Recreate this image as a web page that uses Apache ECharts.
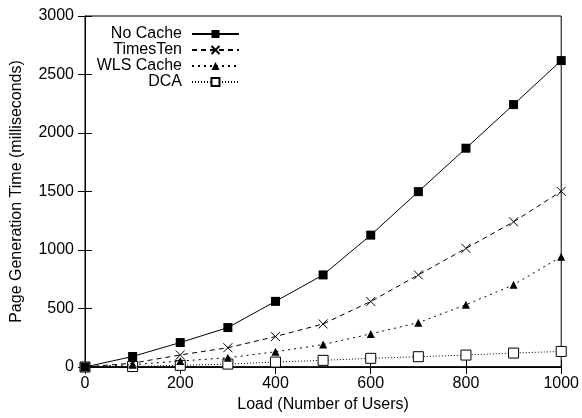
<!DOCTYPE html>
<html>
<head>
<meta charset="utf-8">
<script src="https://cdn.jsdelivr.net/npm/echarts@6/dist/echarts.min.js"></script>
<style>html,body{margin:0;padding:0;background:#fff;}#c{width:582px;height:418px;}</style>
</head>
<body>
<div id="c"></div>
<script>
const loads = [0, 100, 200, 300, 400, 500, 600, 700, 800, 900, 1000];
const noCache = [0, 90, 209, 337, 561, 787, 1127, 1499, 1870, 2243, 2619];
const timesTen = [0, 33, 103, 165, 260, 368, 560, 787, 1014, 1241, 1501];
const wlsCache = [0, 20, 51, 79, 130, 192, 283, 379, 532, 702, 943];
const dca = [0, 4, 14, 25, 42, 57, 74, 88, 102, 119, 133];
const seriesNames = ['No Cache', 'TimesTen', 'WLS Cache', 'DCA'];
const xTicks = [0, 200, 400, 600, 800, 1000];
const yTicks = [0, 500, 1000, 1500, 2000, 2500, 3000];

const font = 'Liberation Sans, Arial, Helvetica, sans-serif';
const pair = arr => loads.map((x, i) => [x, arr[i]]);
const crossPath = 'path://M0,0L10,10M10,0L0,10';
const plain = v => String(v);

const chart = echarts.init(document.getElementById('c'), null, {renderer: 'canvas'});
const tickCommon = {show: true, inside: true, length: 7, lineStyle: {color: '#000', width: 1}};
chart.setOption({
  animation: false,
  backgroundColor: '#fff',
  textStyle: {fontFamily: font},
  grid: {left: 85, right: 18, top: 16, bottom: 49, show: true, borderColor: '#000', borderWidth: 1, backgroundColor: 'transparent'},
  legend: {
    orient: 'vertical', align: 'right', right: 342, top: 26, padding: 0,
    itemWidth: 47, itemHeight: 10, itemGap: 0,
    textStyle: {fontSize: 16, color: '#000', fontFamily: font, padding: [0, 5, 0, 0]},
    data: seriesNames
  },
  xAxis: [{
    type: 'value', min: xTicks[0], max: xTicks[xTicks.length - 1], interval: 200,
    name: 'Load (Number of Users)', nameLocation: 'middle', nameGap: 30,
    nameTextStyle: {fontSize: 16, color: '#000', fontFamily: font},
    axisLine: {show: true, lineStyle: {color: '#000', width: 1.5}},
    axisTick: tickCommon,
    axisLabel: {fontSize: 16, color: '#000', margin: 9, fontFamily: font, formatter: plain},
    splitLine: {show: false}
  }, {
    type: 'value', position: 'top', min: 0, max: 1000, interval: 200,
    axisLine: {show: true, lineStyle: {color: '#000'}}, axisTick: tickCommon,
    axisLabel: {show: false}, splitLine: {show: false}
  }],
  yAxis: [{
    type: 'value', min: yTicks[0], max: yTicks[yTicks.length - 1], interval: 500,
    name: 'Page Generation Time (milliseconds)', nameLocation: 'middle', nameGap: 60,
    nameTextStyle: {fontSize: 16, color: '#000', fontFamily: font},
    axisLine: {show: true, lineStyle: {color: '#000', width: 1}},
    axisTick: tickCommon,
    axisLabel: {fontSize: 16, color: '#000', margin: 11, fontFamily: font, formatter: plain},
    splitLine: {show: false}
  }, {
    type: 'value', position: 'right', min: 0, max: 3000, interval: 500,
    axisLine: {show: true, lineStyle: {color: '#000'}}, axisTick: tickCommon,
    axisLabel: {show: false}, splitLine: {show: false}
  }],
  series: [
    {name: seriesNames[0], type: 'line', data: pair(noCache), symbol: 'rect', symbolSize: 9,
     lineStyle: {color: '#000', width: 1, type: 'solid'},
     itemStyle: {color: '#000', borderColor: '#000', borderWidth: 0}, z: 5},
    {name: seriesNames[1], type: 'line', data: pair(timesTen), symbol: crossPath, symbolSize: 9,
     lineStyle: {color: '#000', width: 1, type: [5, 4]},
     itemStyle: {color: 'none', borderColor: '#000', borderWidth: 1}, z: 4},
    {name: seriesNames[2], type: 'line', data: pair(wlsCache), symbol: 'triangle', symbolSize: 8,
     lineStyle: {color: '#000', width: 1, type: [2, 4]},
     itemStyle: {color: '#000', borderColor: '#000', borderWidth: 0}, z: 3},
    {name: seriesNames[3], type: 'line', data: pair(dca), symbol: 'rect', symbolSize: 10,
     lineStyle: {color: '#000', width: 1, type: [1, 2]},
     itemStyle: {color: '#fff', borderColor: '#000', borderWidth: 1}, z: 2}
  ]
});
</script>
</body>
</html>
